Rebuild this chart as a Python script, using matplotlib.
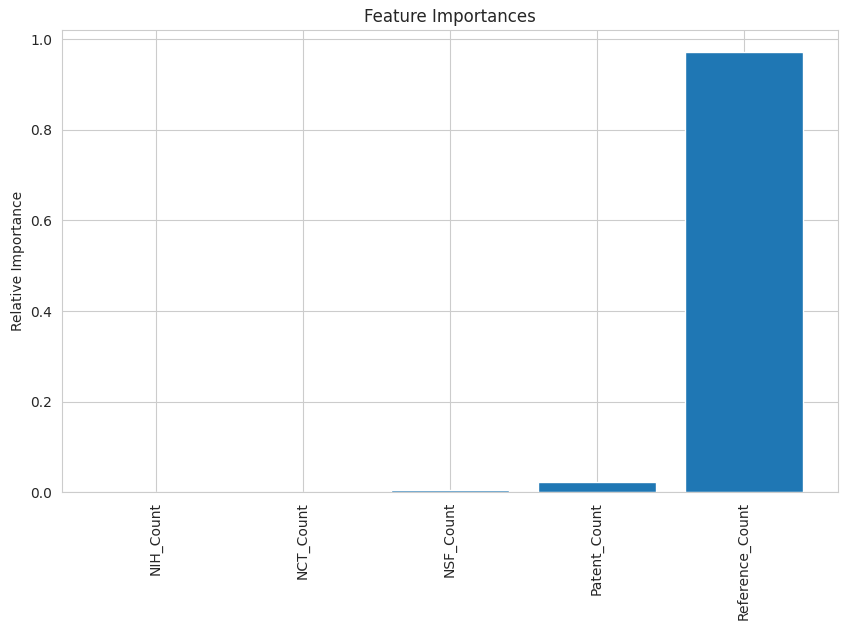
import numpy as np
import seaborn as sns
from matplotlib import pyplot as plt

sns.set_style('whitegrid')

features = ['NIH_Count', 'NCT_Count', 'NSF_Count', 'Patent_Count', 'Reference_Count']
importances = [0.0002, 0.0004, 0.004, 0.022, 0.9718]

fig = plt.figure(figsize=(8.48, 6.3), dpi=100)
ax = fig.add_axes([0.073, 0.219, 0.915, 0.733])
idx = np.arange(len(features))
ax.bar(idx, importances, color='#1f77b4', align='center')
ax.set_xticks(idx)
ax.set_xticklabels(features, rotation=90)
ax.set_ylabel('Relative Importance')
ax.set_title('Feature Importances')

fig.savefig('out.png', dpi=100)
